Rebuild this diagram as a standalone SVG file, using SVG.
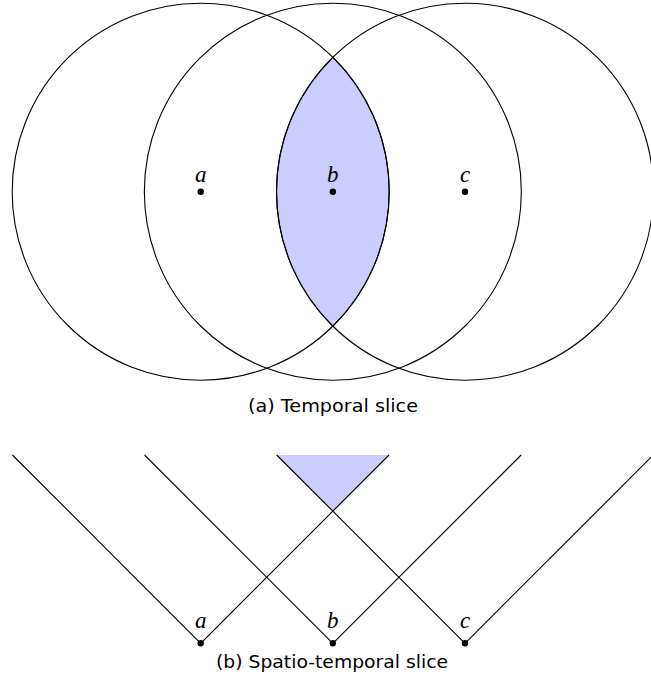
<svg xmlns="http://www.w3.org/2000/svg" width="651" height="691" viewBox="0 0 651 691">
<style>
.ln{stroke:#000;stroke-width:1.1;fill:none}
.fillreg{fill:#ccccff}
.dot{fill:#000}
.lbl{font-family:"Liberation Serif","DejaVu Serif",serif;font-style:italic;font-size:23px;text-anchor:middle;fill:#000}
.cap{font-family:"DejaVu Sans","Liberation Sans",sans-serif;font-size:17px;text-anchor:middle;fill:#000}
</style>
<rect width="651" height="691" fill="#fff"/>
<g id="panel-a">
<path id="lens" class="fillreg" d="M332.85 57.3 A188.5 188.5 0 0 1 332.85 326.1 A188.5 188.5 0 0 1 332.85 57.3 Z" stroke="#000" stroke-width="1.1"/>
<circle class="ln" cx="200.7" cy="191.7" r="188.5"/>
<circle class="ln" cx="332.85" cy="191.7" r="188.5"/>
<circle class="ln" cx="465" cy="191.7" r="188.5"/>
<g id="a1"><circle class="dot" cx="200.7" cy="191.7" r="3.2"/><text class="lbl" x="200.7" y="182">a</text></g>
<g id="b1"><circle class="dot" cx="332.85" cy="191.7" r="3.2"/><text class="lbl" x="332.85" y="182">b</text></g>
<g id="c1"><circle class="dot" cx="465" cy="191.7" r="3.2"/><text class="lbl" x="465" y="182">c</text></g>
<text class="cap" x="333" y="411.5" textLength="170" lengthAdjust="spacingAndGlyphs">(a) Temporal slice</text>
</g>
<g id="panel-b">
<path class="fillreg" d="M276.7 455 L389 455 L332.85 511.15 Z"/>
<g id="connectors">
<line class="ln" x1="200.7" y1="643.3" x2="12.4" y2="455"/>
<line class="ln" x1="200.7" y1="643.3" x2="389" y2="455"/>
<line class="ln" x1="332.85" y1="643.3" x2="144.55" y2="455"/>
<line class="ln" x1="332.85" y1="643.3" x2="521.15" y2="455"/>
<line class="ln" x1="465" y1="643.3" x2="276.7" y2="455"/>
<line class="ln" x1="465" y1="643.3" x2="653.3" y2="455"/>
</g>
<g id="a2"><circle class="dot" cx="200.7" cy="643.3" r="3.2"/><text class="lbl" x="200.7" y="628">a</text></g>
<g id="b2"><circle class="dot" cx="332.85" cy="643.3" r="3.2"/><text class="lbl" x="332.85" y="628">b</text></g>
<g id="c2"><circle class="dot" cx="465" cy="643.3" r="3.2"/><text class="lbl" x="465" y="628">c</text></g>
<text class="cap" x="332" y="668" textLength="232" lengthAdjust="spacingAndGlyphs">(b) Spatio-temporal slice</text>
</g>
</svg>
